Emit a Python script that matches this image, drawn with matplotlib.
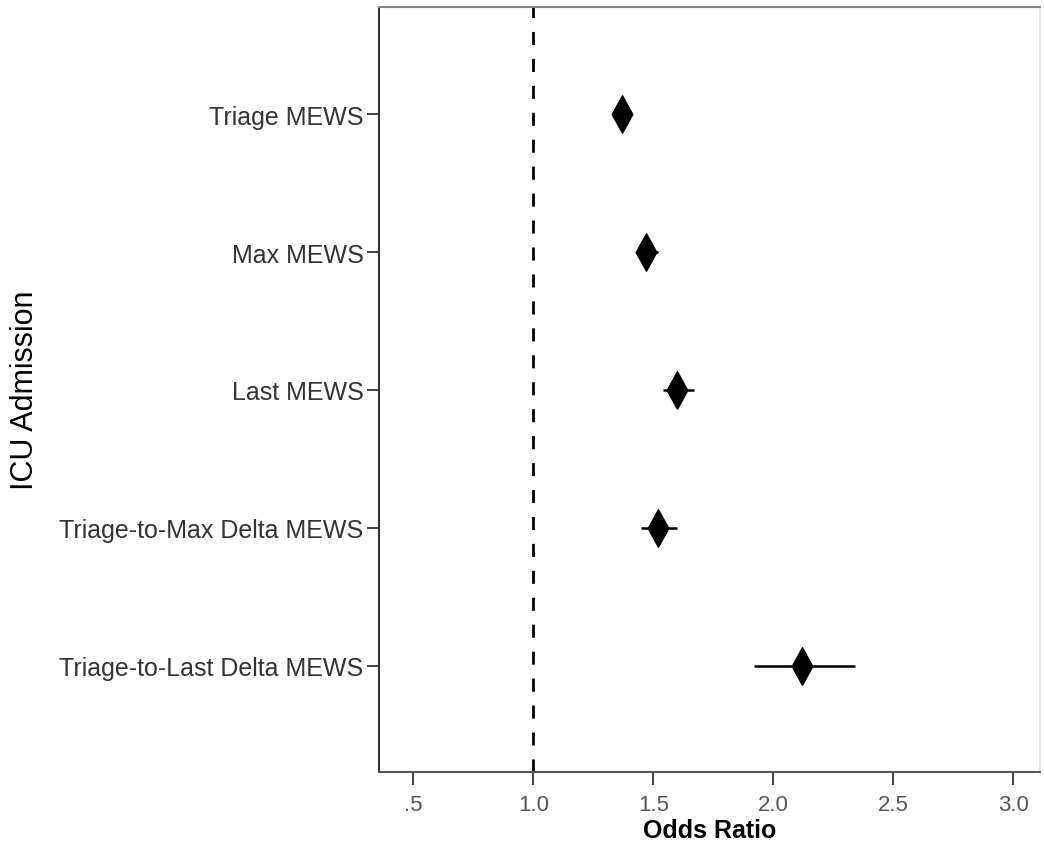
import numpy as np
import matplotlib.pyplot as plt
from matplotlib.path import Path

plt.rcParams['font.family'] = ['Liberation Sans', 'DejaVu Sans']

labels = ["Triage MEWS", "Max MEWS", "Last MEWS",
          "Triage-to-Max Delta MEWS", "Triage-to-Last Delta MEWS"]
odds = [1.37, 1.47, 1.60, 1.52, 2.12]
ci_low = [1.34, 1.43, 1.54, 1.45, 1.92]
ci_high = [1.40, 1.52, 1.67, 1.60, 2.34]
xticks = [0.5, 1.0, 1.5, 2.0, 2.5, 3.0]
xticklabels = [".5", "1.0", "1.5", "2.0", "2.5", "3.0"]

# tall thin diamond
diamond = Path([(0, 1), (0.55, 0), (0, -1), (-0.55, 0), (0, 1)],
               [Path.MOVETO, Path.LINETO, Path.LINETO, Path.LINETO, Path.CLOSEPOLY])

fig = plt.figure(figsize=(10.44, 8.53), dpi=100)
ax = fig.add_axes([0.363, 0.094, 0.633, 0.897])

y = np.arange(len(labels))
ax.hlines(y, ci_low, ci_high, color='black', lw=1.8, zorder=2)
ax.plot(odds, y, linestyle='none', marker=diamond, markersize=27,
        color='black', zorder=3)
ax.axvline(1.0, color='black', lw=2, dashes=(4.7, 5), zorder=1)

ax.set_xlim(0.357, 3.11)
ax.set_ylim(4.77, -0.78)
ax.set_yticks(y)
ax.set_yticklabels(labels, fontsize=18, color='#333333')
ax.set_xticks(xticks)
ax.set_xticklabels(xticklabels, fontsize=16, color='#555555')
ax.tick_params(axis='y', length=9, width=1.3, color='#333333', pad=2)
ax.tick_params(axis='x', length=9, width=1.3, color='#333333', pad=7)

ax.set_xlabel("Odds Ratio", fontsize=18, fontweight='bold', labelpad=2)
ax.set_ylabel("ICU Admission", fontsize=22, labelpad=14)

ax.spines['left'].set_color('#333333')
ax.spines['bottom'].set_color('#555555')
ax.spines['top'].set_color('#888888')
ax.spines['right'].set_color('#e4e4e4')
for s in ax.spines.values():
    s.set_linewidth(1.5)

fig.savefig("out.png", dpi=100)
